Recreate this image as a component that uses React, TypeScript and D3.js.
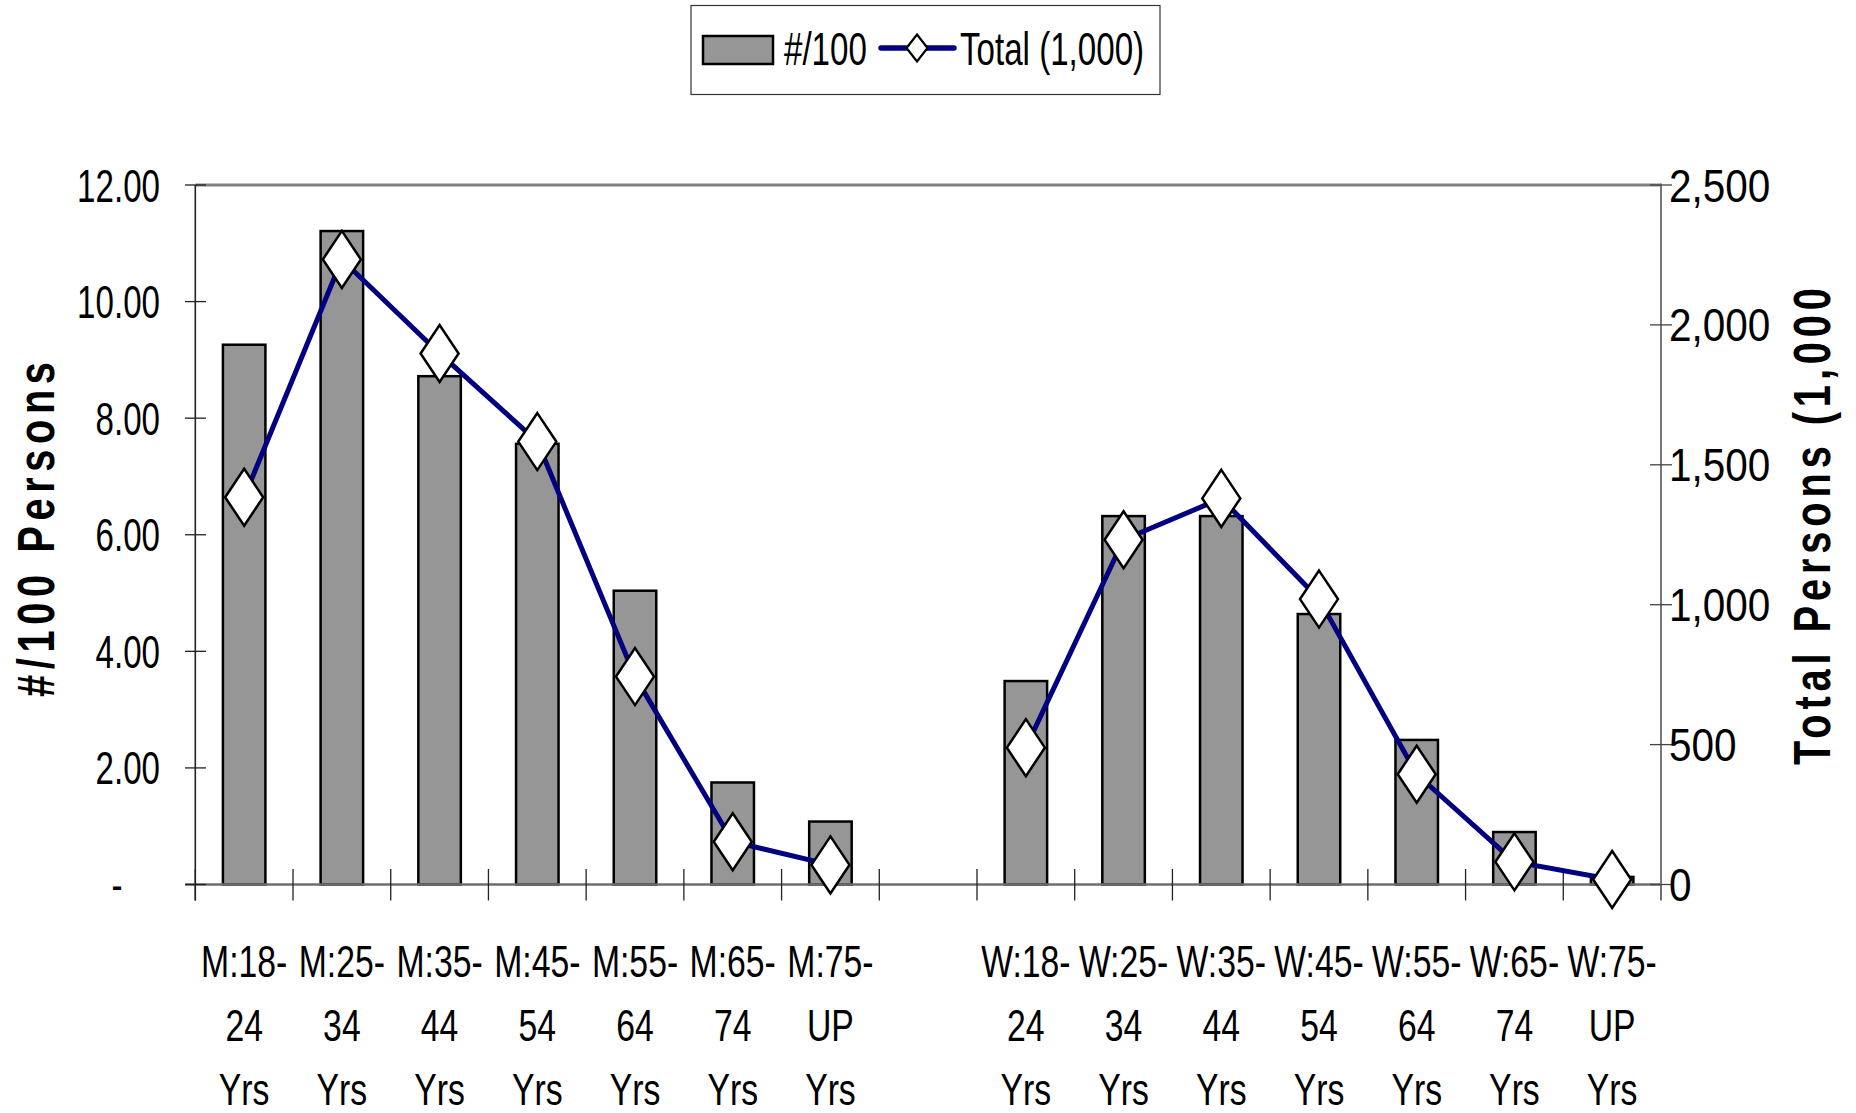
import React from "react";
import * as d3 from "d3";

const menLabels: string[][] = [
  ["M:18-", "24", "Yrs"],
  ["M:25-", "34", "Yrs"],
  ["M:35-", "44", "Yrs"],
  ["M:45-", "54", "Yrs"],
  ["M:55-", "64", "Yrs"],
  ["M:65-", "74", "Yrs"],
  ["M:75-", "UP", "Yrs"],
];
const womenLabels: string[][] = [
  ["W:18-", "24", "Yrs"],
  ["W:25-", "34", "Yrs"],
  ["W:35-", "44", "Yrs"],
  ["W:45-", "54", "Yrs"],
  ["W:55-", "64", "Yrs"],
  ["W:65-", "74", "Yrs"],
  ["W:75-", "UP", "Yrs"],
];
const menRate = [9.26, 11.21, 8.72, 7.56, 5.04, 1.75, 1.08];
const womenRate = [3.49, 6.32, 6.32, 4.64, 2.48, 0.9, 0.13];
const menTotal = [1384, 2234, 1898, 1583, 743, 153, 70];
const womenTotal = [489, 1232, 1380, 1020, 394, 81, 18];

const leftTicks = [0, 2, 4, 6, 8, 10, 12];
const rightTicks = [0, 500, 1000, 1500, 2000, 2500];
const legendBarLabel = "#/100";
const legendLineLabel = "Total (1,000)";
const leftTitle = "#/100 Persons";
const rightTitle = "Total Persons (1,000";

type Row = { key: string; lines: string[]; rate: number | null; total: number | null };

const rows: Row[] = [
  ...menLabels.map((l, i) => ({ key: "m" + i, lines: l, rate: menRate[i], total: menTotal[i] })),
  { key: "gap", lines: [], rate: null, total: null },
  ...womenLabels.map((l, i) => ({ key: "w" + i, lines: l, rate: womenRate[i], total: womenTotal[i] })),
];

const FONT = "'Liberation Sans', Arial, Helvetica, sans-serif";
const NAVY = "#000080";
const BAR = "#969696";

const L = 195.3, R = 1661, T = 185, B = 884.5;

function STxt(props: { x: number; y: number; sx: number; anchor?: string; size?: number; children: any }) {
  const { x, y, sx, anchor = "middle", size = 46, children } = props;
  return (
    <text
      transform={`translate(${x},${y}) scale(${sx},1)`}
      textAnchor={anchor}
      fontFamily={FONT}
      fontSize={size}
      fill="#000"
    >
      {children}
    </text>
  );
}

export default function App() {
  const x = d3.scaleBand<string>().domain(rows.map((r) => r.key)).range([L, R]).padding(0);
  const yL = d3.scaleLinear().domain([0, 12]).range([B, T]);
  const yR = d3.scaleLinear().domain([0, 2500]).range([B, T]);
  const bw = x.bandwidth();
  const barW = bw * 0.435;
  const cx = (k: string) => (x(k) as number) + bw / 2;

  const line = d3
    .line<Row>()
    .defined((d) => d.total != null)
    .x((d) => cx(d.key))
    .y((d) => yR(d.total as number));

  const fmtL = d3.format(".2f");
  const fmtR = d3.format(",");
  const diamond = (px: number, py: number, hw: number, hh: number) =>
    `M${px},${py - hh}L${px + hw},${py}L${px},${py + hh}L${px - hw},${py}Z`;

  const boundaries = d3.range(rows.length + 1).map((i) => L + i * bw);
  const tsx = 0.78;

  return (
    <svg
      width={1856}
      height={1113}
      style={{ position: "absolute", left: 0, top: 0, background: "#fff" }}
    >
      <rect x={0} y={0} width={1856} height={1113} fill="#fff" />
      {/* Legend */}
      <rect x={691} y={5.5} width={469} height={89} fill="#fff" stroke="#333" strokeWidth={1.2} />
      <rect x={703} y={36} width={70} height={28} fill={BAR} stroke="#000" strokeWidth={2.5} />
      <STxt x={784} y={65} sx={0.72} anchor="start">{legendBarLabel}</STxt>
      <line x1={881} y1={48} x2={954} y2={48} stroke={NAVY} strokeWidth={5.5} strokeLinecap="round" />
      <path d={diamond(917, 48, 10.5, 13.5)} fill="#fff" stroke="#000" strokeWidth={2.2} />
      <STxt x={960} y={65} sx={0.72} anchor="start">{legendLineLabel}</STxt>

      {/* plot top border */}
      <line x1={L} y1={T} x2={R} y2={T} stroke="#808080" strokeWidth={3} />

      {/* bars */}
      {rows
        .filter((r) => r.rate != null)
        .map((r) => (
          <rect
            key={r.key}
            x={cx(r.key) - barW / 2}
            y={yL(r.rate as number)}
            width={barW}
            height={B - yL(r.rate as number)}
            fill={BAR}
            stroke="#000"
            strokeWidth={2.5}
          />
        ))}

      {/* baseline */}
      <line x1={L - 10} y1={B} x2={R} y2={B} stroke="#6e6e6e" strokeWidth={2.6} />
      {/* category ticks */}
      {boundaries.map((bx, i) => (
        <line key={i} x1={bx} y1={869} x2={bx} y2={900.5} stroke="#222" strokeWidth={1.3} />
      ))}
      {/* left axis */}
      <line x1={L} y1={T} x2={L} y2={900.5} stroke="#222" strokeWidth={1.6} />
      {leftTicks.map((t) => (
        <line key={t} x1={185} y1={yL(t)} x2={206} y2={yL(t)} stroke="#222" strokeWidth={1.3} />
      ))}
      {/* right axis */}
      <line x1={R} y1={T - 1.5} x2={R} y2={B + 1} stroke="#777" strokeWidth={2} />
      {rightTicks.map((t) => (
        <line key={t} x1={1650} y1={yR(t)} x2={1672} y2={yR(t)} stroke="#444" strokeWidth={1.3} />
      ))}

      {/* line series */}
      <path d={line(rows) || ""} fill="none" stroke={NAVY} strokeWidth={5} strokeLinejoin="round" />
      {rows
        .filter((r) => r.total != null)
        .map((r) => (
          <path
            key={r.key}
            d={diamond(cx(r.key), yR(r.total as number), 19, 28.5)}
            fill="#fff"
            stroke="#000"
            strokeWidth={2.5}
          />
        ))}

      {/* left tick labels */}
      {leftTicks.map((t) =>
        t === 0 ? (
          <STxt key={t} x={117} y={yL(t) + 16} sx={0.72}>-</STxt>
        ) : (
          <STxt key={t} x={160} y={yL(t) + 16.5} sx={0.72} anchor="end">
            {fmtL(t)}
          </STxt>
        )
      )}
      {/* right tick labels */}
      {rightTicks.map((t) => (
        <STxt key={t} x={1669} y={yR(t) + 16.5} sx={0.88} anchor="start">
          {fmtR(t)}
        </STxt>
      ))}

      {/* category labels */}
      {rows.map((r) =>
        r.lines.map((ln, j) => (
          <STxt key={r.key + j} x={cx(r.key)} y={977 + j * 64} sx={0.75} size={45}>
            {ln}
          </STxt>
        ))
      )}

      {/* axis titles */}
      <text
        transform={`translate(53.5,697) rotate(-90) scale(${tsx},1)`}
        textAnchor="start"
        fontFamily={FONT}
        fontWeight="bold"
        fontSize={51}
        textLength={335 / tsx}
        lengthAdjust="spacing"
        fill="#000"
      >
        {leftTitle}
      </text>
      <text
        transform={`translate(1830,765) rotate(-90) scale(${tsx},1)`}
        textAnchor="start"
        fontFamily={FONT}
        fontWeight="bold"
        fontSize={51}
        textLength={477 / tsx}
        lengthAdjust="spacing"
        fill="#000"
      >
        {rightTitle}
      </text>
    </svg>
  );
}
